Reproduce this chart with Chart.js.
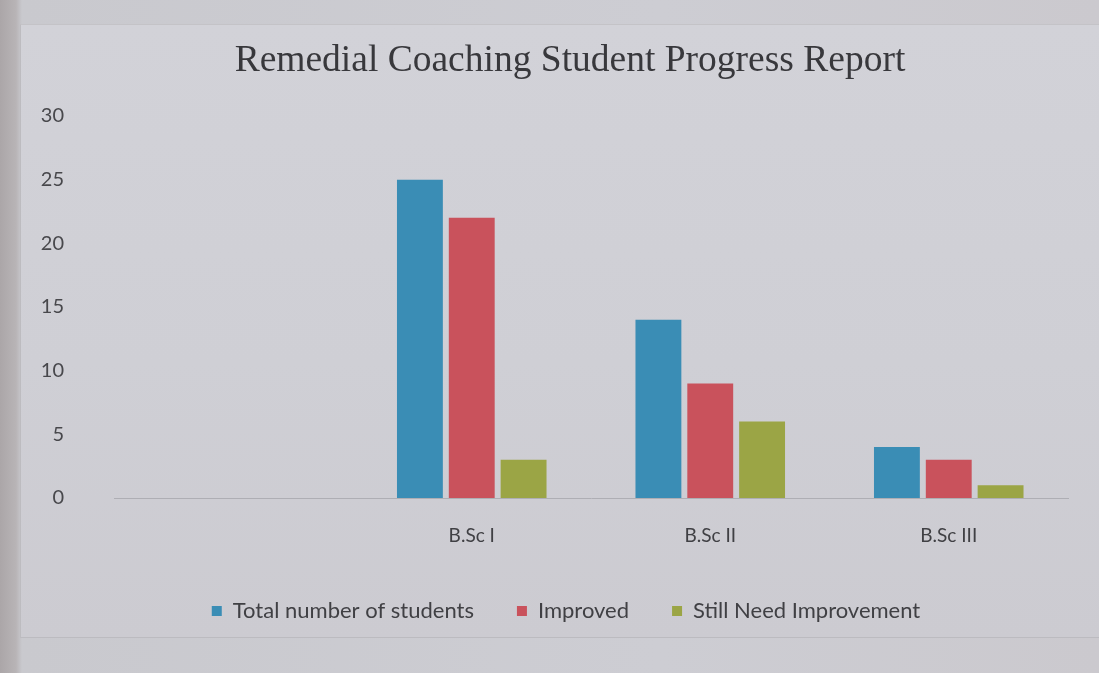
<!DOCTYPE html>
<html>
<head>
<meta charset="utf-8">
<title>Remedial Coaching Student Progress Report</title>
<script src="https://cdn.jsdelivr.net/npm/chart.js@4.4.1/dist/chart.umd.min.js"></script>
<style>
  html, body { margin: 0; padding: 0; }
  body {
    width: 1099px; height: 673px; overflow: hidden;
    background: linear-gradient(to right, #aba6a8 0px, #b8b4b6 16px, #c9c9ce 22px, #cdcdd3 60%, #cbc9ce 100%);
    position: relative;
  }
  .sheet {
    position: absolute; left: 20px; top: 24px; width: 1079px; height: 612px;
    border-left: 1px solid #bdbcc0; border-top: 1px solid #c4c3c7; border-bottom: 1px solid #bcbbc0;
    background: linear-gradient(to bottom, #d2d2d8 0%, #cfcfd5 55%, #cccbd1 100%);
  }
  #wrap { position: absolute; left: 0; top: 0; width: 1099px; height: 673px; }
</style>
</head>
<body>
<div class="sheet"></div>
<div id="wrap"><canvas id="chart" width="1099" height="673"></canvas></div>
<script>
// Classes and counts of students in the remedial coaching programme
const chartTitle = 'Remedial Coaching Student Progress Report';
const categories = ['', 'B.Sc I', 'B.Sc II', 'B.Sc III'];
const totalStudents = [null, 25, 14, 4];
const improved = [null, 22, 9, 3];
const stillNeedImprovement = [null, 3, 6, 1];
const yTicks = [0, 5, 10, 15, 20, 25, 30];

const textColor = '#404044';

// Heading drawn above the plot, centred over the bars and legend
const headingPlugin = {
  id: 'heading',
  afterDraw(chart) {
    const ctx = chart.ctx;
    ctx.save();
    ctx.font = '37.5px "Liberation Serif", "Times New Roman", serif';
    ctx.fillStyle = '#38383c';
    ctx.textAlign = 'center';
    ctx.textBaseline = 'middle';
    ctx.fillText(chartTitle, 570, 61);
    ctx.restore();
  }
};

// Nudge the legend row so it sits under the plotted groups
const legendShift = {
  id: 'legendShift',
  afterLayout(chart) {
    if (chart.legend) {
      chart.legend.left += 17;
      chart.legend.right += 17;
    }
  }
};

new Chart(document.getElementById('chart'), {
  type: 'bar',
  data: {
    labels: categories,
    datasets: [
      { label: 'Total number of students', data: totalStudents, backgroundColor: '#3a8db5' },
      { label: 'Improved', data: improved, backgroundColor: '#c9525c' },
      { label: 'Still Need Improvement', data: stillNeedImprovement, backgroundColor: '#9ba545' }
    ]
  },
  plugins: [headingPlugin, legendShift],
  options: {
    responsive: false,
    animation: false,
    events: [],
    categoryPercentage: 0.652,
    barPercentage: 0.885,
    layout: { padding: { left: 30, right: 31, top: 116, bottom: 41 } },
    plugins: {
      tooltip: { enabled: false },
      title: { display: false },
      legend: {
        position: 'bottom',
        labels: {
          color: textColor,
          font: { family: 'Lato, "Liberation Sans", sans-serif', size: 22 },
          boxWidth: 10,
          boxHeight: 10,
          padding: 43
        }
      }
    },
    scales: {
      x: {
        grid: { display: false },
        border: { display: true, color: '#aeaeb4', width: 1 },
        ticks: {
          color: textColor,
          font: { family: 'Lato, "Liberation Sans", sans-serif', size: 19 },
          padding: 18
        },
        afterFit: (axis) => { axis.height = 59; }
      },
      y: {
        min: 0,
        max: 30,
        afterBuildTicks: (axis) => { axis.ticks = yTicks.map(v => ({ value: v })); },
        grid: { display: false },
        border: { display: false },
        ticks: {
          color: '#48484c',
          font: { family: 'Lato, "Liberation Sans", sans-serif', size: 20 },
          padding: 42
        },
        afterFit: (axis) => { axis.width = 84; }
      }
    }
  }
});
</script>
</body>
</html>
